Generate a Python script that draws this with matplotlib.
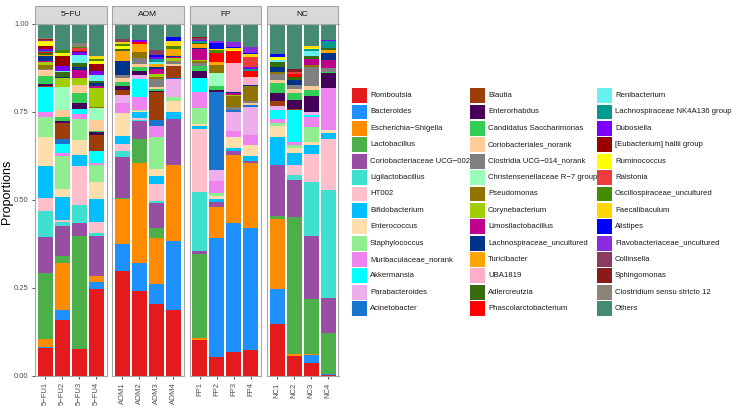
import matplotlib
matplotlib.use('Agg')
import matplotlib.pyplot as plt
import pandas as pd
from matplotlib.patches import Rectangle

plt.rcParams['font.family'] = ['Liberation Sans', 'DejaVu Sans']

# taxa in stacking order (bottom -> top) and their fill colours
taxa = ['Romboutsia', 'Bacteroides', 'Escherichia-Shigella', 'Lactobacillus',
        'Coriobacteriaceae UCG-002', 'Ligilactobacillus', 'HT002', 'Bifidobacterium',
        'Enterococcus', 'Staphylococcus', 'Muribaculaceae_norank', 'Akkermansia',
        'Parabacteroides', 'Acinetobacter', 'Blautia', 'Enterorhabdus',
        'Candidatus Saccharimonas', 'Coriobacteriales_norank', 'Clostridia UCG-014_norank',
        'Christensenellaceae R-7 group', 'Pseudomonas', 'Corynebacterium',
        'Limosilactobacillus', 'Lachnospiraceae_uncultured', 'Turicibacter', 'UBA1819',
        'Adlercreutzia', 'Phascolarctobacterium', 'Renibacterium',
        'Lachnospiraceae NK4A136 group', 'Dubosiella', '[Eubacterium] hallii group',
        'Ruminococcus', 'Ralstonia', 'Oscillospiraceae_uncultured', 'Faecalibaculum',
        'Alistipes', 'Flavobacteriaceae_uncultured', 'Collinsella', 'Sphingomonas',
        'Clostridium sensu stricto 12', 'Others']

colors = ['#E41A1C', '#1E90FF', '#FF8C00', '#4DAF4A', '#984EA3', '#40E0D0', '#FFC0CB',
          '#00BFFF', '#FFDEAD', '#90EE90', '#EE82EE', '#00FFFF', '#EEAEEE', '#1874CD',
          '#9C3D0A', '#45005A', '#33CC55', '#FFCC99', '#808080', '#99FFBB', '#8F7500',
          '#A2CD00', '#C0008C', '#00338A', '#FFA500', '#FFAEC9', '#386B0F', '#FF0000',
          '#66F0F0', '#00998F', '#7B00FF', '#9B0000', '#FFFF00', '#EE3B3B', '#458B00',
          '#FFD700', '#0000FF', '#8A2BE2', '#8B3A62', '#8B1A1A', '#8B8378', '#458B74']

groups = ['5-FU', 'AOM', 'FP', 'NC']
group_samples = {
    '5-FU': ['5-FU1', '5-FU2', '5-FU3', '5-FU4'],
    'AOM': ['AOM1', 'AOM2', 'AOM3', 'AOM4'],
    'FP': ['FP1', 'FP2', 'FP3', 'FP4'],
    'NC': ['NC1', 'NC2', 'NC3', 'NC4'],
}

# relative abundance per sample (taxa not listed are 0)
fu1 = {'Romboutsia': 0.080, 'Bacteroides': 0.003, 'Escherichia-Shigella': 0.024,
       'Lactobacillus': 0.189, 'Coriobacteriaceae UCG-002': 0.102, 'Ligilactobacillus': 0.075,
       'HT002': 0.038, 'Bifidobacterium': 0.090, 'Enterococcus': 0.085, 'Staphylococcus': 0.057,
       'Muribaculaceae_norank': 0.013, 'Akkermansia': 0.073, 'Blautia': 0.003,
       'Enterorhabdus': 0.004, 'Candidatus Saccharimonas': 0.025, 'Coriobacteriales_norank': 0.016,
       'Clostridia UCG-014_norank': 0.002, 'Christensenellaceae R-7 group': 0.002,
       'Pseudomonas': 0.010, 'Corynebacterium': 0.009, 'Limosilactobacillus': 0.004,
       'Lachnospiraceae_uncultured': 0.014, 'Turicibacter': 0.002, 'UBA1819': 0.001,
       'Adlercreutzia': 0.006, 'Phascolarctobacterium': 0.001, 'Renibacterium': 0.001,
       'Lachnospiraceae NK4A136 group': 0.003, 'Dubosiella': 0.006,
       '[Eubacterium] hallii group': 0.008, 'Ruminococcus': 0.010, 'Ralstonia': 0.001,
       'Oscillospiraceae_uncultured': 0.001, 'Faecalibaculum': 0.001, 'Alistipes': 0.001,
       'Flavobacteriaceae_uncultured': 0.001, 'Collinsella': 0.003, 'Sphingomonas': 0.002,
       'Clostridium sensu stricto 12': 0.002, 'Others': 0.041}
fu2 = {'Romboutsia': 0.159, 'Bacteroides': 0.029, 'Escherichia-Shigella': 0.132,
       'Lactobacillus': 0.021, 'Coriobacteriaceae UCG-002': 0.083, 'Ligilactobacillus': 0.012,
       'HT002': 0.007, 'Bifidobacterium': 0.065, 'Enterococcus': 0.022, 'Staphylococcus': 0.093,
       'Muribaculaceae_norank': 0.008, 'Akkermansia': 0.028, 'Acinetobacter': 0.014,
       'Blautia': 0.043, 'Enterorhabdus': 0.007, 'Candidatus Saccharimonas': 0.010,
       'Coriobacteriales_norank': 0.022, 'Christensenellaceae R-7 group': 0.063,
       'Corynebacterium': 0.028, 'Lachnospiraceae_uncultured': 0.003, 'Adlercreutzia': 0.013,
       'Renibacterium': 0.003, 'Dubosiella': 0.014, '[Eubacterium] hallii group': 0.028,
       'Ruminococcus': 0.009, 'Oscillospiraceae_uncultured': 0.008, 'Others': 0.074}
fu3 = {'Romboutsia': 0.076, 'Lactobacillus': 0.322, 'Coriobacteriaceae UCG-002': 0.038,
       'Ligilactobacillus': 0.050, 'HT002': 0.111, 'Bifidobacterium': 0.031, 'Enterococcus': 0.042,
       'Staphylococcus': 0.060, 'Muribaculaceae_norank': 0.014, 'Akkermansia': 0.014,
       'Enterorhabdus': 0.017, 'Candidatus Saccharimonas': 0.028, 'Coriobacteriales_norank': 0.024,
       'Corynebacterium': 0.019, 'Limosilactobacillus': 0.023, 'Lachnospiraceae_uncultured': 0.010,
       'Adlercreutzia': 0.011, 'Renibacterium': 0.022, 'Dubosiella': 0.008,
       '[Eubacterium] hallii group': 0.003, 'Ralstonia': 0.008, 'Oscillospiraceae_uncultured': 0.003,
       'Clostridium sensu stricto 12': 0.011, 'Others': 0.055}
fu4 = {'Romboutsia': 0.246, 'Bacteroides': 0.019, 'Escherichia-Shigella': 0.019,
       'Coriobacteriaceae UCG-002': 0.112, 'Ligilactobacillus': 0.009, 'HT002': 0.031,
       'Bifidobacterium': 0.064, 'Enterococcus': 0.049, 'Staphylococcus': 0.048,
       'Muribaculaceae_norank': 0.007, 'Akkermansia': 0.033, 'Blautia': 0.045,
       'Enterorhabdus': 0.007, 'Candidatus Saccharimonas': 0.005, 'Coriobacteriales_norank': 0.030,
       'Christensenellaceae R-7 group': 0.033, 'Pseudomonas': 0.005, 'Corynebacterium': 0.053,
       'Limosilactobacillus': 0.006, 'Lachnospiraceae_uncultured': 0.008, 'Adlercreutzia': 0.005,
       'Renibacterium': 0.019, 'Dubosiella': 0.010, '[Eubacterium] hallii group': 0.020,
       'Ruminococcus': 0.009, 'Oscillospiraceae_uncultured': 0.005, 'Faecalibaculum': 0.008,
       'Others': 0.091}
aom1 = {'Romboutsia': 0.299, 'Bacteroides': 0.075, 'Escherichia-Shigella': 0.129,
        'Lactobacillus': 0.003, 'Coriobacteriaceae UCG-002': 0.117, 'Ligilactobacillus': 0.017,
        'HT002': 0.019, 'Bifidobacterium': 0.023, 'Enterococcus': 0.066,
        'Muribaculaceae_norank': 0.027, 'Parabacteroides': 0.023, 'Blautia': 0.015,
        'Enterorhabdus': 0.011, 'Candidatus Saccharimonas': 0.012, 'Coriobacteriales_norank': 0.010,
        'Clostridia UCG-014_norank': 0.009, 'Lachnospiraceae_uncultured': 0.041,
        'Turicibacter': 0.028, 'Adlercreutzia': 0.006, 'Ruminococcus': 0.008,
        'Oscillospiraceae_uncultured': 0.006, 'Faecalibaculum': 0.006, 'Collinsella': 0.006,
        'Others': 0.044}
aom2 = {'Romboutsia': 0.240, 'Bacteroides': 0.080, 'Escherichia-Shigella': 0.282,
        'Lactobacillus': 0.070, 'Coriobacteriaceae UCG-002': 0.051, 'Ligilactobacillus': 0.003,
        'HT002': 0.004, 'Bifidobacterium': 0.018, 'Enterococcus': 0.003, 'Staphylococcus': 0.003,
        'Muribaculaceae_norank': 0.035, 'Akkermansia': 0.052, 'Parabacteroides': 0.011,
        'Enterorhabdus': 0.012, 'Candidatus Saccharimonas': 0.012, 'Coriobacteriales_norank': 0.007,
        'Clostridia UCG-014_norank': 0.018, 'Pseudomonas': 0.017, 'Turicibacter': 0.021,
        'Phascolarctobacterium': 0.007, 'Dubosiella': 0.007, 'Others': 0.044}
aom3 = {'Romboutsia': 0.202, 'Bacteroides': 0.059, 'Escherichia-Shigella': 0.130,
        'Lactobacillus': 0.026, 'Coriobacteriaceae UCG-002': 0.072, 'Ligilactobacillus': 0.006,
        'HT002': 0.048, 'Bifidobacterium': 0.023, 'Enterococcus': 0.019, 'Staphylococcus': 0.090,
        'Muribaculaceae_norank': 0.031, 'Acinetobacter': 0.017, 'Blautia': 0.078,
        'Enterorhabdus': 0.004, 'Candidatus Saccharimonas': 0.005, 'Coriobacteriales_norank': 0.006,
        'Clostridia UCG-014_norank': 0.024, 'Pseudomonas': 0.005, 'Corynebacterium': 0.009,
        'Limosilactobacillus': 0.012, 'Lachnospiraceae_uncultured': 0.006, 'Turicibacter': 0.010,
        'Renibacterium': 0.006, 'Lachnospiraceae NK4A136 group': 0.008, 'Dubosiella': 0.005,
        'Alistipes': 0.005, 'Collinsella': 0.014, 'Others': 0.074}
aom4 = {'Romboutsia': 0.188, 'Bacteroides': 0.194, 'Escherichia-Shigella': 0.218,
        'Coriobacteriaceae UCG-002': 0.128, 'Bifidobacterium': 0.022, 'Enterococcus': 0.031,
        'Staphylococcus': 0.012, 'Parabacteroides': 0.051, 'Acinetobacter': 0.003,
        'Blautia': 0.033, 'Coriobacteriales_norank': 0.006, 'Clostridia UCG-014_norank': 0.008,
        'Corynebacterium': 0.008, 'Limosilactobacillus': 0.003, 'Lachnospiraceae_uncultured': 0.003,
        'Turicibacter': 0.021, 'Oscillospiraceae_uncultured': 0.007, 'Faecalibaculum': 0.014,
        'Alistipes': 0.011, 'Others': 0.038}
fp1 = {'Romboutsia': 0.102, 'Escherichia-Shigella': 0.007, 'Lactobacillus': 0.237,
       'Coriobacteriaceae UCG-002': 0.008, 'Ligilactobacillus': 0.170, 'HT002': 0.178,
       'Bifidobacterium': 0.007, 'Enterococcus': 0.007, 'Staphylococcus': 0.045,
       'Muribaculaceae_norank': 0.045, 'Akkermansia': 0.042, 'Enterorhabdus': 0.019,
       'Candidatus Saccharimonas': 0.013, 'Clostridia UCG-014_norank': 0.010, 'Pseudomonas': 0.004,
       'Corynebacterium': 0.004, 'Limosilactobacillus': 0.031, 'Lachnospiraceae_uncultured': 0.002,
       'Turicibacter': 0.012, 'Adlercreutzia': 0.004, 'Lachnospiraceae NK4A136 group': 0.004,
       'Dubosiella': 0.004, 'Collinsella': 0.004, 'Sphingomonas': 0.003, 'Others': 0.038}
fp2 = {'Romboutsia': 0.055, 'Bacteroides': 0.336, 'Escherichia-Shigella': 0.088,
       'Coriobacteriaceae UCG-002': 0.013, 'Bifidobacterium': 0.010, 'Enterococcus': 0.009,
       'Staphylococcus': 0.008, 'Muribaculaceae_norank': 0.033, 'Parabacteroides': 0.031,
       'Acinetobacter': 0.220, 'Enterorhabdus': 0.007, 'Candidatus Saccharimonas': 0.011,
       'Christensenellaceae R-7 group': 0.036, 'Pseudomonas': 0.025, 'Turicibacter': 0.008,
       'Phascolarctobacterium': 0.024, 'Oscillospiraceae_uncultured': 0.009,
       'Faecalibaculum': 0.002, 'Alistipes': 0.017, 'Flavobacteriaceae_uncultured': 0.008,
       'Others': 0.047}
fp3 = {'Romboutsia': 0.069, 'Bacteroides': 0.367, 'Escherichia-Shigella': 0.192,
       'Coriobacteriaceae UCG-002': 0.011, 'Bifidobacterium': 0.010, 'Enterococcus': 0.031,
       'Muribaculaceae_norank': 0.017, 'Parabacteroides': 0.054, 'Acinetobacter': 0.006,
       'Clostridia UCG-014_norank': 0.006, 'Pseudomonas': 0.032, 'Corynebacterium': 0.003,
       'Limosilactobacillus': 0.005, 'Lachnospiraceae_uncultured': 0.005, 'UBA1819': 0.080,
       'Phascolarctobacterium': 0.035, 'Ruminococcus': 0.003, 'Faecalibaculum': 0.005,
       'Alistipes': 0.004, 'Flavobacteriaceae_uncultured': 0.015, 'Others': 0.050}
fp4 = {'Romboutsia': 0.074, 'Bacteroides': 0.346, 'Escherichia-Shigella': 0.183,
       'Coriobacteriaceae UCG-002': 0.007, 'Bifidobacterium': 0.014, 'Enterococcus': 0.030,
       'Muribaculaceae_norank': 0.029, 'Parabacteroides': 0.081, 'Acinetobacter': 0.005,
       'Coriobacteriales_norank': 0.004, 'Clostridia UCG-014_norank': 0.008, 'Pseudomonas': 0.041,
       'Lachnospiraceae_uncultured': 0.003, 'UBA1819': 0.024, 'Phascolarctobacterium': 0.017,
       'Lachnospiraceae NK4A136 group': 0.005, 'Dubosiella': 0.005, 'Ralstonia': 0.028,
       'Faecalibaculum': 0.008, 'Alistipes': 0.004, 'Flavobacteriaceae_uncultured': 0.018,
       'Others': 0.064}
nc1 = {'Romboutsia': 0.145, 'Bacteroides': 0.101, 'Escherichia-Shigella': 0.195,
       'Lactobacillus': 0.009, 'Coriobacteriaceae UCG-002': 0.144, 'Bifidobacterium': 0.078,
       'Enterococcus': 0.033, 'Staphylococcus': 0.007, 'Muribaculaceae_norank': 0.011,
       'Akkermansia': 0.027, 'Parabacteroides': 0.009, 'Blautia': 0.016, 'Enterorhabdus': 0.022,
       'Candidatus Saccharimonas': 0.027, 'Coriobacteriales_norank': 0.010,
       'Clostridia UCG-014_norank': 0.016, 'Pseudomonas': 0.006, 'Lachnospiraceae_uncultured': 0.013,
       'Adlercreutzia': 0.014, 'Renibacterium': 0.006, 'Ruminococcus': 0.009, 'Alistipes': 0.008,
       'Others': 0.085}
nc2 = {'Romboutsia': 0.057, 'Escherichia-Shigella': 0.004, 'Lactobacillus': 0.387,
       'Coriobacteriaceae UCG-002': 0.104, 'Ligilactobacillus': 0.016, 'HT002': 0.027,
       'Bifidobacterium': 0.035, 'Enterococcus': 0.013, 'Staphylococcus': 0.009,
       'Muribaculaceae_norank': 0.007, 'Akkermansia': 0.091, 'Blautia': 0.004,
       'Enterorhabdus': 0.026, 'Candidatus Saccharimonas': 0.017, 'Coriobacteriales_norank': 0.014,
       'Clostridia UCG-014_norank': 0.009, 'Lachnospiraceae_uncultured': 0.014,
       'Adlercreutzia': 0.009, 'Phascolarctobacterium': 0.010, 'Ralstonia': 0.006,
       'Sphingomonas': 0.008, 'Others': 0.126}
nc3 = {'Romboutsia': 0.036, 'Bacteroides': 0.024, 'Escherichia-Shigella': 0.003,
       'Lactobacillus': 0.155, 'Coriobacteriaceae UCG-002': 0.176, 'Ligilactobacillus': 0.153,
       'HT002': 0.078, 'Bifidobacterium': 0.025, 'Enterococcus': 0.009, 'Staphylococcus': 0.043,
       'Muribaculaceae_norank': 0.028, 'Akkermansia': 0.004, 'Parabacteroides': 0.009,
       'Enterorhabdus': 0.046, 'Candidatus Saccharimonas': 0.016, 'Coriobacteriales_norank': 0.011,
       'Clostridia UCG-014_norank': 0.055, 'Pseudomonas': 0.004, 'Limosilactobacillus': 0.017,
       'Adlercreutzia': 0.009, 'Renibacterium': 0.013, 'Lachnospiraceae NK4A136 group': 0.006,
       'Ruminococcus': 0.004, 'Faecalibaculum': 0.004, 'Others': 0.063}
nc4 = {'Romboutsia': 0.002, 'Bacteroides': 0.003, 'Lactobacillus': 0.116,
       'Coriobacteriaceae UCG-002': 0.100, 'Ligilactobacillus': 0.307, 'HT002': 0.144,
       'Bifidobacterium': 0.017, 'Enterococcus': 0.010, 'Muribaculaceae_norank': 0.117,
       'Enterorhabdus': 0.043, 'Candidatus Saccharimonas': 0.005, 'Clostridia UCG-014_norank': 0.009,
       'Limosilactobacillus': 0.025, 'Lachnospiraceae_uncultured': 0.019, 'Turicibacter': 0.009,
       'Adlercreutzia': 0.005, 'Lachnospiraceae NK4A136 group': 0.020, 'Dubosiella': 0.003,
       'Others': 0.045}

abund = {'5-FU1': fu1, '5-FU2': fu2, '5-FU3': fu3, '5-FU4': fu4,
         'AOM1': aom1, 'AOM2': aom2, 'AOM3': aom3, 'AOM4': aom4,
         'FP1': fp1, 'FP2': fp2, 'FP3': fp3, 'FP4': fp4,
         'NC1': nc1, 'NC2': nc2, 'NC3': nc3, 'NC4': nc4}

df = pd.DataFrame(abund).reindex(taxa).fillna(0)
df = df / df.sum()  # position = "fill"


def mnus(s):
    return s.replace('-', '\u2212')


W, H = 734, 408
fig = plt.figure(figsize=(W / 100, H / 100), dpi=100)

panel_left = [35, 112, 189.5, 267]
panel_w = 71.5
top_px, bot_px = 24, 376
edge = '#A6A6A6'
txt = '#4D4D4D'

for gi, g in enumerate(groups):
    ax = fig.add_axes([panel_left[gi] / W, (H - bot_px) / H, panel_w / W, (bot_px - top_px) / H])
    samp = group_samples[g]
    x = list(range(1, len(samp) + 1))
    bottom = pd.Series(0.0, index=samp)
    for t, c in zip(taxa, colors):
        vals = df.loc[t, samp]
        ax.bar(x, vals.values, bottom=bottom.values, width=0.9, color=c, linewidth=0)
        bottom = bottom + vals
    ax.set_xlim(0.4, len(samp) + 0.6)
    ax.set_ylim(0, 1)
    for s in ax.spines.values():
        s.set_color(edge)
        s.set_linewidth(0.8)
    ax.set_xticks(x)
    ax.set_xticklabels([mnus(s) for s in samp], rotation=90, fontsize=5.5, color=txt)
    ax.tick_params(axis='x', length=2.5, width=0.6, color='#333333', pad=2)
    if gi == 0:
        ax.set_yticks([0, 0.25, 0.5, 0.75, 1.0])
        ax.set_yticklabels(['0.00', '0.25', '0.50', '0.75', '1.00'], fontsize=5.5, color=txt)
        ax.tick_params(axis='y', length=2.5, width=0.6, color='#333333', pad=2)
    else:
        ax.set_yticks([])
    # facet strip
    sh = 18 / (bot_px - top_px)
    ax.add_patch(Rectangle((0, 1.0), 1, sh, transform=ax.transAxes, clip_on=False,
                           facecolor='#D9D9D9', edgecolor=edge, linewidth=0.8))
    ax.text(0.5, 1.0 + sh / 2, mnus(g), transform=ax.transAxes, ha='center', va='center',
            fontsize=6, color='#1A1A1A')

fig.text(7 / W, 1 - 192 / H, 'Proportions', rotation=90, ha='center', va='center', fontsize=9)

# legend, 3 columns of 14 keys
col_x = [352, 470, 597]
for i, (t, c) in enumerate(zip(taxa, colors)):
    col, row = divmod(i, 14)
    yc = 95.5 + row * 16.4
    kx = col_x[col]
    fig.add_artist(Rectangle((kx / W, 1 - (yc + 7.4) / H), 15 / W, 14.8 / H,
                             transform=fig.transFigure, facecolor=c, edgecolor='none'))
    fig.text((kx + 18) / W, 1 - yc / H, mnus(t), ha='left', va='center', fontsize=5.6,
             color='#1A1A1A')

fig.savefig('out.png', dpi=100)
